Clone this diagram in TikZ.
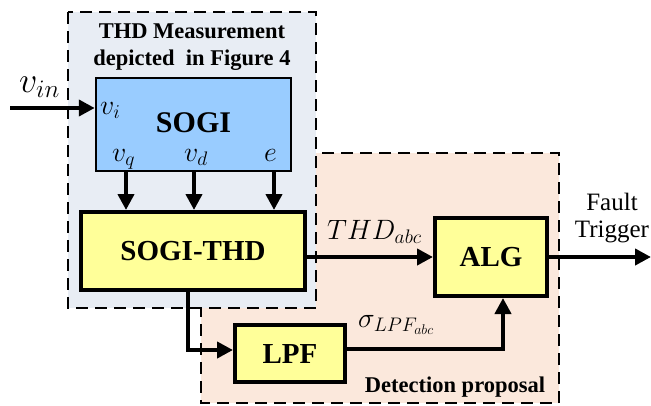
\documentclass[tikz,border=0pt]{standalone}
\usepackage{fix-cm}
\usepackage{fontspec}
\setmainfont{Liberation Serif}
\usetikzlibrary{arrows.meta}
\definecolor{bluereg}{HTML}{E8EDF4}
\definecolor{orangereg}{HTML}{FBE8DC}
\definecolor{sogiblue}{HTML}{99CCFF}
\definecolor{boxyellow}{HTML}{FFFF99}
\tikzset{
  region/.style={line width=2.5pt, dash pattern=on 12pt off 7pt},
  bigbox/.style={draw, line width=4pt, fill=boxyellow, font=\bfseries\fontsize{29}{32}\selectfont, inner sep=0pt},
  sogibox/.style={draw, line width=2.5pt, fill=sogiblue, font=\bfseries\fontsize{30}{32}\selectfont, inner sep=0pt},
  arr/.style={line width=4pt, -{Triangle[length=16pt,width=16pt]}},
  mlab/.style={font=\fontsize{28}{30}\selectfont, inner sep=0pt},
  tlab/.style={font=\bfseries\fontsize{22.5}{27}\selectfont, align=center, inner sep=0pt},
}
\begin{document}
\begin{tikzpicture}[x=1pt,y=-1pt]
\useasboundingbox (0,0) rectangle (651,405);
% regions
\draw[region, fill=orangereg] (201,153) rectangle (559,403);
\draw[region, fill=bluereg] (68,12) rectangle (316,308);
% titles
\node[tlab, anchor=base] (title) at (192,65) {THD Measurement\\depicted~ in Figure 4};
\node[tlab, anchor=base] (detect) at (455,392) {Detection proposal};
% boxes
\node[sogibox, minimum width=195pt, minimum height=93pt] (sogi) at (193.5,124.5) {\raisebox{4pt}{SOGI}};
\node[bigbox, minimum width=224pt, minimum height=78pt] (thd) at (193,251) {SOGI-THD};
\node[bigbox, minimum width=110pt, minimum height=57pt] (lpf) at (290,353.5) {LPF};
\node[bigbox, minimum width=112pt, minimum height=78pt] (alg) at (491,257) {ALG};
% SOGI port labels
\node[mlab, anchor=base west] (vi) at (100,114) {$v_i$};
\node[mlab, anchor=base west] (vq) at (112,161) {$v_q$};
\node[mlab, anchor=base west] (vd) at (184,161) {$v_d$};
\node[mlab, anchor=base west] (e) at (264,161) {$e$};
% input
\coordinate (vinstart) at (10,108);
\node[font=\fontsize{36}{40}\selectfont, inner sep=0pt, anchor=base west] (vinlab) at (19,92) {$v_{in}$};
\draw[arr] (vinstart) -- (vinstart -| sogi.west);
% down arrows
\coordinate (c1) at (126,0);
\coordinate (c2) at (194,0);
\coordinate (c3) at (274,0);
\draw[arr] (c1 |- sogi.south) -- (c1 |- thd.north);
\draw[arr] (c2 |- sogi.south) -- (c2 |- thd.north);
\draw[arr] (c3 |- sogi.south) -- (c3 |- thd.north);
% THD -> ALG
\coordinate (thdout) at (305,257);
\draw[arr] (thdout) -- (alg.west);
\node[mlab, anchor=base west] (thdlab) at (327,239) {$THD_{abc}$};
% THD -> LPF
\coordinate (tl) at (188,350);
\draw[arr] (tl |- thd.south) -- (tl) -- (tl -| lpf.west);
% LPF -> ALG
\coordinate (la) at (503,349);
\draw[arr] (la -| lpf.east) -- (la) -- (la |- alg.south);
\node[mlab, anchor=base west] (siglab) at (358,327) {$\sigma_{LPF_{abc}}$};
% output
\coordinate (out) at (651,257);
\draw[arr] (alg.east) -- (out);
\node[font=\fontsize{25}{27}\selectfont, align=center, inner sep=0pt, anchor=base] (fault) at (612,237) {Fault\\Trigger};
\end{tikzpicture}
\end{document}
